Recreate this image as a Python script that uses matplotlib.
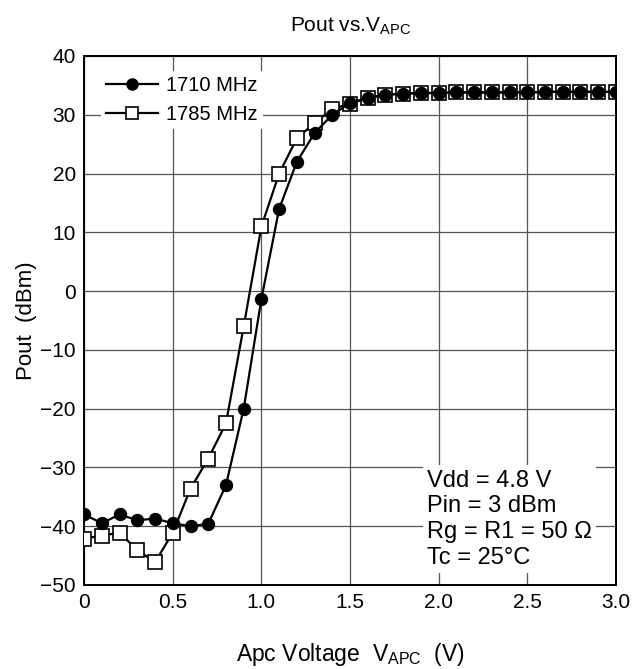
import matplotlib.pyplot as plt
import numpy as np

plt.rcParams['font.family'] = ['Liberation Sans', 'DejaVu Sans']

# Apc voltage sweep, 0.0 .. 3.0 V in 0.1 V steps
v_apc = [0.0, 0.1, 0.2, 0.3, 0.4, 0.5, 0.6, 0.7, 0.8, 0.9,
         1.0, 1.1, 1.2, 1.3, 1.4, 1.5, 1.6, 1.7, 1.8, 1.9,
         2.0, 2.1, 2.2, 2.3, 2.4, 2.5, 2.6, 2.7, 2.8, 2.9, 3.0]

pout_1710 = [-38.0, -39.5, -38.0, -39.0, -38.7, -39.5, -40.0, -39.6, -33.0, -20.0,
             -1.3, 14.0, 22.0, 26.9, 30.0, 32.0, 32.8, 33.4, 33.6, 33.7,
             33.7, 33.8, 33.8, 33.8, 33.8, 33.8, 33.9, 33.9, 33.9, 33.9, 33.9]

pout_1785 = [-42.1, -41.6, -41.1, -44.1, -46.1, -41.1, -33.6, -28.5, -22.5, -6.0,
             11.0, 20.0, 26.0, 28.6, 31.0, 31.9, 32.9, 33.4, 33.6, 33.7,
             33.7, 33.8, 33.8, 33.8, 33.8, 33.8, 33.9, 33.9, 33.9, 33.9, 33.9]

x_ticks = [0, 0.5, 1.0, 1.5, 2.0, 2.5, 3.0]
x_tick_labels = ["0", "0.5", "1.0", "1.5", "2.0", "2.5", "3.0"]
y_ticks = [-50, -40, -30, -20, -10, 0, 10, 20, 30, 40]
y_tick_labels = ["\u221250", "\u221240", "\u221230", "\u221220", "\u221210",
                 "0", "10", "20", "30", "40"]

conditions = ["Vdd = 4.8 V", "Pin = 3 dBm", "Rg = R1 = 50 \u03a9", "Tc = 25\u00b0C"]

fig = plt.figure(figsize=(6.33, 6.69), dpi=100)
ax = fig.add_axes((0.133, 0.1256, 0.840, 0.7907))

ax.plot(v_apc, pout_1785, color="black", lw=1.6, marker="s", ms=10,
        mfc="white", mec="black", mew=1.2, label="1785 MHz", zorder=3)
ax.plot(v_apc, pout_1710, color="black", lw=1.6, marker="o", ms=8.6,
        mfc="black", mec="black", label="1710 MHz", zorder=4)

ax.set_xlim(0, 3.0)
ax.set_ylim(-50, 40)
ax.set_xticks(x_ticks)
ax.set_xticklabels(x_tick_labels)
ax.set_yticks(y_ticks)
ax.set_yticklabels(y_tick_labels)
ax.tick_params(labelsize=15, length=0, pad=6)
ax.grid(True, color="#555555", lw=0.9)
ax.set_axisbelow(True)
for s in ax.spines.values():
    s.set_linewidth(1.4)

ax.set_xlabel("Apc Voltage  V$_{\\mathregular{APC}}$  (V)", fontsize=16.5, labelpad=21)
ax.set_ylabel("Pout  (dBm)", fontsize=16, labelpad=2)
ax.set_title("Pout vs.V$_{\\mathregular{APC}}$", fontsize=15, pad=18)

handles, labels = ax.get_legend_handles_labels()
leg = ax.legend(handles[::-1], labels[::-1], loc="upper left", fontsize=14.5,
                frameon=True, framealpha=1, edgecolor="white", fancybox=False,
                borderpad=0.25, handlelength=2.6, handletextpad=0.4,
                labelspacing=0.5, bbox_to_anchor=(0.012, 0.99))
leg.get_frame().set_linewidth(0)
for h in leg.legend_handles:
    h.set_markersize(8)

ax.text(0.645, 0.218, "\n".join(conditions), transform=ax.transAxes,
        fontsize=17, va="top", ha="left", linespacing=1.22,
        bbox=dict(facecolor="white", edgecolor="none", pad=3), zorder=5)

fig.savefig("out.png", dpi=100)
